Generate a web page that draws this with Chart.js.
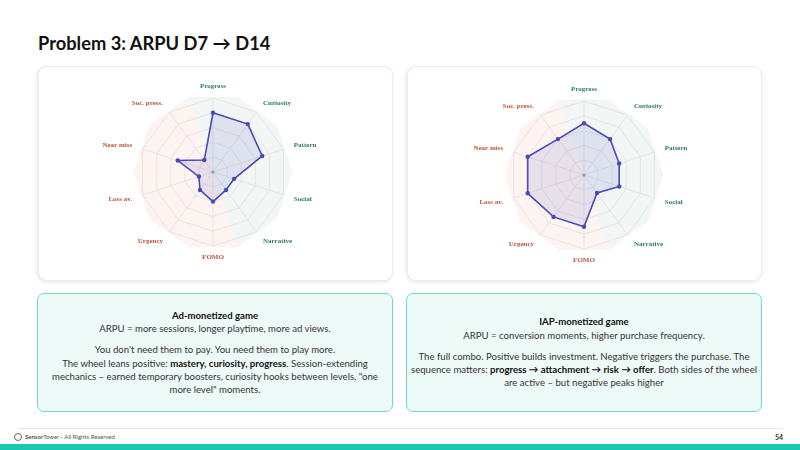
<!DOCTYPE html>
<html lang="en">
<head>
<meta charset="UTF-8" />
<title>Problem 3: ARPU D7 → D14</title>
<script src="https://cdn.jsdelivr.net/npm/chart.js"></script>
<style>
    body { margin: 0; width: 800px; height: 450px; position: relative; background: #fff; font-family: Lato, sans-serif; overflow: hidden; }
    h1 { position: absolute; left: 38px; top: 32px; margin: 0; font-size: 18.3px; line-height: 22px; font-weight: 700; color: #111; }
    .card { position: absolute; top: 66px; width: 355px; height: 215px; background: #fff; border: 1px solid #ececec; border-radius: 9px; box-shadow: -1px 1px 4px rgba(0,0,0,0.10); box-sizing: border-box; }
    .card canvas { position: absolute; left: 0; top: 0; }
    .note { position: absolute; top: 293px; width: 356px; height: 119px; box-sizing: border-box; background: #eefaf7; border: 1px solid #6fdcc9; border-radius: 7px;
            display: flex; flex-direction: column; justify-content: center; align-items: center; text-align: center; font-size: 9.6px; line-height: 13.3px; color: #333; }
    .note p { margin: 0; white-space: nowrap; }
    .note p + p { margin-top: 8px; }
    .note b { color: #111; }
    .footline { position: absolute; left: 18px; right: 17px; top: 428px; height: 1px; background: #e6e6e6; }
    .foot { position: absolute; left: 14px; top: 432px; font-size: 6px; line-height: 10px; color: #555; display: flex; align-items: center; }
    .foot .logo { width: 6px; height: 6px; border: 1px solid #666; border-radius: 50%; margin-right: 3px; }
    .page { position: absolute; right: 17px; top: 432px; font-size: 7px; line-height: 10px; font-weight: 700; color: #333; }
    .bar { position: absolute; left: 0; right: 0; top: 444px; height: 6px; background: #1cc7b1; }
</style>
</head>
<body>

<h1>Problem 3: ARPU D7 → D14</h1>

<div class="card" style="left:38px"><canvas id="adChart" width="355" height="215"></canvas></div>
<div class="card" style="left:407px"><canvas id="iapChart" width="355" height="215"></canvas></div>

<div class="note" style="left:37px">
    <p><b>Ad-monetized game</b><br>ARPU = more sessions, longer playtime, more ad views.</p>
    <p>You don't need them to pay. You need them to play more.<br>The wheel leans positive: <b>mastery, curiosity, progress</b>. Session-extending<br>mechanics – earned temporary boosters, curiosity hooks between levels, "one<br>more level" moments.</p>
</div>
<div class="note" style="left:406px">
    <p><b>IAP-monetized game</b><br>ARPU = conversion moments, higher purchase frequency.</p>
    <p>The full combo. Positive builds investment. Negative triggers the purchase. The<br>sequence matters: <b>progress → attachment → risk → offer</b>. Both sides of the wheel<br>are active – but negative peaks higher</p>
</div>

<div class="footline"></div>
<div class="foot"><span class="logo"></span><b>Sensor</b>Tower - All Rights Reserved</div>
<div class="page">54</div>
<div class="bar"></div>

<script>
const axisLabels = ['Progress', 'Curiosity', 'Pattern', 'Social', 'Narrative', 'FOMO', 'Urgency', 'Loss av.', 'Near miss', 'Soc. press.'];
const positiveAxis = [true, true, true, true, true, false, false, false, false, false];
const adValues = [8, 8, 7, 3, 3, 4, 3, 2, 5, 2];
const iapValues = [7, 6, 5, 5, 3, 7, 7, 8, 8, 6];

const GREEN = '#2f7a58', RED = '#b9553b';

// coloured wedges behind the web + labels + centre dot
const wheelPlugin = {
    id: 'wheel',
    beforeDraw(chart) {
        const s = chart.scales.r, ctx = chart.ctx;
        const R = s.drawingArea * 1.07;
        ctx.save();
        axisLabels.forEach((l, i) => {
            const a = s.getPointPosition(i - 0.5, R);
            const b = s.getPointPosition(i + 0.5, R);
            ctx.beginPath();
            ctx.moveTo(s.xCenter, s.yCenter);
            ctx.lineTo(a.x, a.y);
            ctx.lineTo(b.x, b.y);
            ctx.closePath();
            ctx.fillStyle = positiveAxis[i] ? 'rgba(226,238,232,0.45)' : 'rgba(250,228,222,0.4)';
            ctx.fill();
        });
        ctx.restore();
    },
    afterDraw(chart) {
        const s = chart.scales.r, ctx = chart.ctx;
        ctx.save();
        ctx.font = 'bold 7px "Liberation Serif", serif';
        axisLabels.forEach((l, i) => {
            const p = s.getPointPosition(i, s.drawingArea + 11);
            const deg = i * 36;
            ctx.textAlign = (deg === 0 || deg === 180) ? 'center' : (deg < 180 ? 'left' : 'right');
            ctx.textBaseline = (deg === 0) ? 'bottom' : (deg === 180 ? 'top' : (deg < 90 || deg > 270 ? 'bottom' : 'top'));
            ctx.fillStyle = positiveAxis[i] ? GREEN : RED;
            ctx.fillText(l, p.x, p.y + (ctx.textBaseline === 'bottom' ? 3 : -3));
        });
        ctx.beginPath();
        ctx.arc(s.xCenter, s.yCenter, 1.6, 0, Math.PI * 2);
        ctx.fillStyle = '#999';
        ctx.fill();
        ctx.restore();
    }
};

function makeRadar(id, values, padding) {
    new Chart(document.getElementById(id), {
        type: 'radar',
        data: {
            labels: axisLabels,
            datasets: [{
                data: values,
                borderColor: '#4a4ab5',
                backgroundColor: 'rgba(100,100,190,0.14)',
                borderWidth: 1.6,
                pointRadius: 2.2,
                pointBackgroundColor: '#4a4ab5',
                pointBorderWidth: 0,
                fill: true
            }]
        },
        options: {
            responsive: false,
            animation: false,
            layout: { padding: padding },
            plugins: { legend: { display: false }, tooltip: { enabled: false } },
            scales: {
                r: {
                    min: 0, max: 10,
                    ticks: { display: false, stepSize: 2 },
                    grid: { color: '#dcdcdc', lineWidth: 0.7 },
                    angleLines: { color: '#dcdcdc', lineWidth: 0.7 },
                    pointLabels: { display: false }
                }
            }
        },
        plugins: [wheelPlugin]
    });
}

makeRadar('adChart', adValues, { left: 0, right: 7, top: 31, bottom: 36 });
makeRadar('iapChart', iapValues, { left: 0, right: 2, top: 34, bottom: 33 });
</script>

</body>
</html>
